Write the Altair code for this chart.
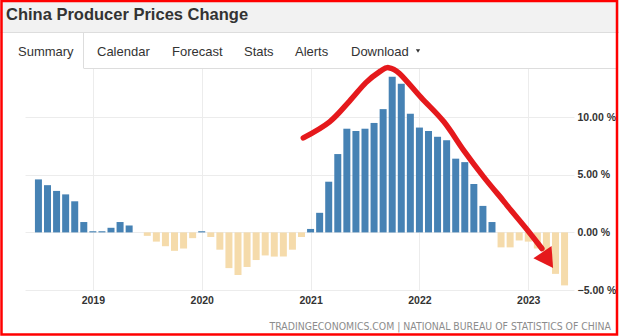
import altair as alt
import pandas as pd

# ---- data (China PPI, % y/y, Jul 2018 - May 2023) ----
months = [
    "2018-07", "2018-08", "2018-09", "2018-10", "2018-11", "2018-12",
    "2019-01", "2019-02", "2019-03", "2019-04", "2019-05", "2019-06",
    "2019-07", "2019-08", "2019-09", "2019-10", "2019-11", "2019-12",
    "2020-01", "2020-02", "2020-03", "2020-04", "2020-05", "2020-06",
    "2020-07", "2020-08", "2020-09", "2020-10", "2020-11", "2020-12",
    "2021-01", "2021-02", "2021-03", "2021-04", "2021-05", "2021-06",
    "2021-07", "2021-08", "2021-09", "2021-10", "2021-11", "2021-12",
    "2022-01", "2022-02", "2022-03", "2022-04", "2022-05", "2022-06",
    "2022-07", "2022-08", "2022-09", "2022-10", "2022-11", "2022-12",
    "2023-01", "2023-02", "2023-03", "2023-04", "2023-05",
]
ppi = [
    4.6, 4.1, 3.6, 3.3, 2.7, 0.9,
    0.1, 0.1, 0.4, 0.9, 0.6, 0.0,
    -0.3, -0.8, -1.2, -1.6, -1.4, -0.5,
    0.1, -0.4, -1.5, -3.1, -3.7, -3.0,
    -2.4, -2.0, -2.1, -2.1, -1.5, -0.4,
    0.3, 1.7, 4.4, 6.8, 9.0, 8.8,
    9.0, 9.5, 10.7, 13.5, 12.9, 10.3,
    9.1, 8.8, 8.3, 8.0, 6.4, 6.1,
    4.2, 2.3, 0.9, -1.3, -1.3, -0.7,
    -0.8, -1.4, -2.5, -3.6, -4.6,
]
year_labels = [2019, 2020, 2021, 2022, 2023]
y_ticks = [-5, 0, 5, 10]

# hand-drawn red arrow annotation (month index from Jan 2019, value %)
arrow_m = [23.2, 26.1, 28.3, 30.1, 31.7, 32.6, 33.8, 36.2, 38.7, 40.9, 43.1, 45.2, 45.8, 47.7, 49.5]
arrow_v = [8.2, 9.6, 11.4, 13.0, 14.0, 14.3, 13.8, 11.7, 9.6, 7.1, 4.8, 2.8, 2.2, 0.4, -1.4]
head_m = [50.15]
head_v = [-2.4]

tabs = ["Summary", "Calendar", "Forecast", "Stats", "Alerts", "Download"]
tab_x = [-7, 72, 147, 219, 270, 326]

df = pd.DataFrame({"month": months, "v": ppi})
df["m"] = [(int(s[:4]) - 2019) * 12 + int(s[5:]) - 1 for s in months]
df["sign"] = ["pos" if v >= 0 else "neg" for v in ppi]

W, H = 549, 222
PL, PT = 25, 68

xscale = alt.Scale(domain=[-6.93, 52.49], nice=False, zero=False)
yscale = alt.Scale(domain=[-5, 14.27], nice=False, zero=False)
tick_vals = [(y - 2019) * 12 for y in year_labels]

AXF = "Liberation Sans, Arial"
FOOTF = "DejaVu Sans Condensed, Liberation Sans"

bars = alt.Chart(df).mark_bar(size=7).encode(
    x=alt.X("m:Q", scale=xscale, title=None,
            axis=alt.Axis(values=tick_vals, labelExpr="'' + (2019 + datum.value / 12)",
                          domain=False, ticks=False, grid=True, gridColor="#ececec",
                          labelFont=AXF, labelFontSize=10.5, labelFontWeight="bold",
                          labelColor="#333333", labelPadding=5)),
    y=alt.Y("v:Q", scale=yscale, title=None,
            axis=alt.Axis(orient="right", values=y_ticks,
                          labelExpr="format(datum.value, '.2f') + ' %'",
                          domain=False, ticks=False, grid=True, gridColor="#ececec",
                          labelFont=AXF, labelFontSize=10.5, labelFontWeight="bold",
                          labelColor="#333333", labelAlign="left", labelPadding=3)),
    color=alt.Color("sign:N", scale=alt.Scale(domain=["pos", "neg"], range=["#4682b4", "#f5dbab"]),
                    legend=None),
)

arrow_df = pd.DataFrame({"m": arrow_m, "v": arrow_v, "o": list(range(len(arrow_m)))})
arrow = alt.Chart(arrow_df).mark_line(color="#e5191c", strokeWidth=5.5, strokeCap="round",
                                      strokeJoin="round", interpolate="cardinal").encode(
    x="m:Q", y="v:Q", order="o:Q")
head = alt.Chart(pd.DataFrame({"m": head_m, "v": head_v})).mark_point(
    shape="triangle-down", filled=True, color="#e5191c", opacity=1, size=480, angle=326
).encode(x="m:Q", y="v:Q")


def rect(x, x2, y, y2, **kw):
    return alt.Chart(pd.DataFrame({"a": [0]})).mark_rect(**kw).encode(
        x=alt.value(x), x2=alt.value(x2), y=alt.value(y), y2=alt.value(y2))


def rule(x, x2, y, y2, color="#dddddd", w=1):
    return alt.Chart(pd.DataFrame({"a": [0]})).mark_rule(color=color, strokeWidth=w).encode(
        x=alt.value(x), x2=alt.value(x2), y=alt.value(y), y2=alt.value(y2))


def text(s, x, y, **kw):
    return alt.Chart(pd.DataFrame({"t": [s]})).mark_text(baseline="alphabetic", **kw).encode(
        x=alt.value(x), y=alt.value(y), text="t:N")


band = rect(-PL, 619 - PL, -PT, 32 - PT, color="#f2f2f2")
band_line = rule(-PL, 619 - PL, 32.5 - PT, 32.5 - PT)
tab_r = rule(83.5 - PL, 83.5 - PL, 32 - PT, 68 - PT)
tab_bottom = rule(83.5 - PL, 617 - PL, 68.5 - PT, 68.5 - PT)

title_t = text("China Producer Prices Change", 6 - PL, 20 - PT, align="left",
               font="Liberation Sans, Arial", fontSize=16.5, fontWeight="bold", color="#333333")
tab_layers = [
    text(t, x, 56 - PT, align="left", font="Liberation Sans, Arial", fontSize=13, color="#333333")
    for t, x in zip(tabs, tab_x)
]
caret = alt.Chart(pd.DataFrame({"a": [0]})).mark_point(
    shape="triangle-down", filled=True, color="#333333", opacity=1, size=18
).encode(x=alt.value(418 - PL), y=alt.value(51 - PT))

footer = text("TRADINGECONOMICS.COM | NATIONAL BUREAU OF STATISTICS OF CHINA", 611 - PL, 330 - PT,
              align="right", font=FOOTF, fontSize=10.4, color="#8c8c8c")

border = rect(1.5 - PL, 617 - PL, 1 - PT, 334.5 - PT, fill=None, stroke="#ff0000",
              strokeWidth=2.5, fillOpacity=0)

chart = alt.layer(
    band, band_line, tab_r, tab_bottom, title_t, *tab_layers, caret,
    bars, arrow, head, footer, border
).properties(
    width=W, height=H,
    autosize=alt.AutoSizeParams(type="none"),
    padding={"left": PL, "top": PT, "right": 619 - PL - W, "bottom": 336 - PT - H},
    background="white",
).configure_view(stroke=None)

chart.save("out.html", embed_options={"renderer": "svg", "actions": False})
